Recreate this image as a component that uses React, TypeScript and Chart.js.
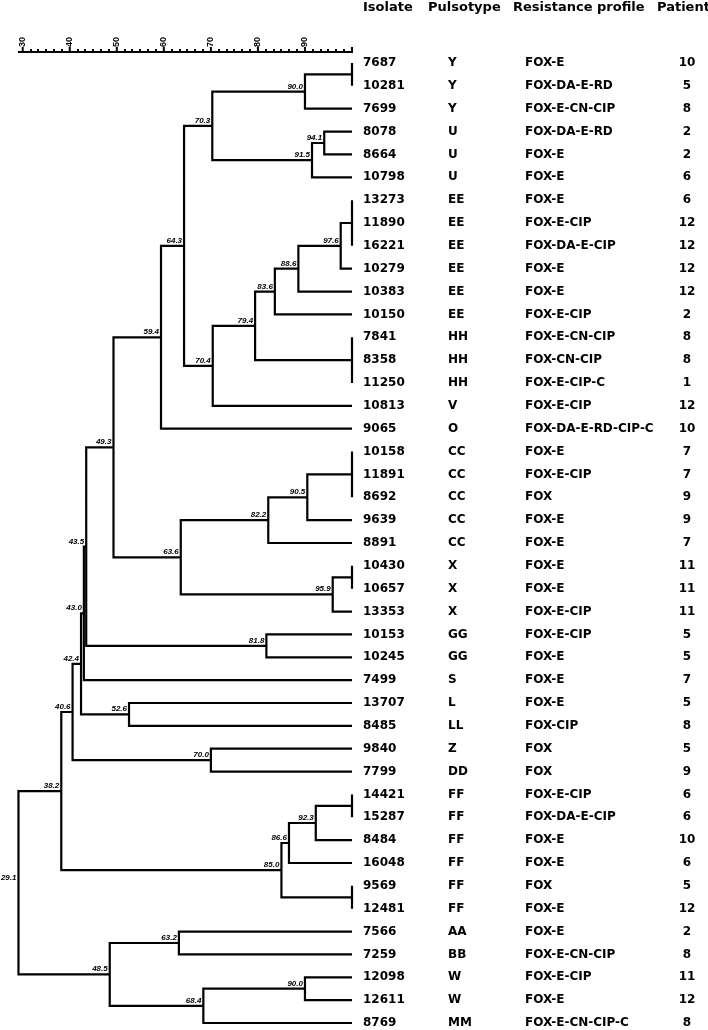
import React, { useEffect, useRef } from "react";
import { Chart, registerables } from "chart.js";

Chart.register(...registerables);

// ---------- table data (one entry per dendrogram leaf, top to bottom) ----------
const isolates = [
  "7687", "10281", "7699", "8078", "8664", "10798", "13273", "11890", "16221", "10279",
  "10383", "10150", "7841", "8358", "11250", "10813", "9065", "10158", "11891", "8692",
  "9639", "8891", "10430", "10657", "13353", "10153", "10245", "7499", "13707", "8485",
  "9840", "7799", "14421", "15287", "8484", "16048", "9569", "12481", "7566", "7259",
  "12098", "12611", "8769",
];
const pulsotypes = [
  "Y", "Y", "Y", "U", "U", "U", "EE", "EE", "EE", "EE",
  "EE", "EE", "HH", "HH", "HH", "V", "O", "CC", "CC", "CC",
  "CC", "CC", "X", "X", "X", "GG", "GG", "S", "L", "LL",
  "Z", "DD", "FF", "FF", "FF", "FF", "FF", "FF", "AA", "BB",
  "W", "W", "MM",
];
const resistanceProfiles = [
  "FOX-E", "FOX-DA-E-RD", "FOX-E-CN-CIP", "FOX-DA-E-RD", "FOX-E", "FOX-E", "FOX-E", "FOX-E-CIP", "FOX-DA-E-CIP", "FOX-E",
  "FOX-E", "FOX-E-CIP", "FOX-E-CN-CIP", "FOX-CN-CIP", "FOX-E-CIP-C", "FOX-E-CIP", "FOX-DA-E-RD-CIP-C", "FOX-E", "FOX-E-CIP", "FOX",
  "FOX-E", "FOX-E", "FOX-E", "FOX-E", "FOX-E-CIP", "FOX-E-CIP", "FOX-E", "FOX-E", "FOX-E", "FOX-CIP",
  "FOX", "FOX", "FOX-E-CIP", "FOX-DA-E-CIP", "FOX-E", "FOX-E", "FOX", "FOX-E", "FOX-E", "FOX-E-CN-CIP",
  "FOX-E-CIP", "FOX-E", "FOX-E-CN-CIP-C",
];
const patients = [
  "10", "5", "8", "2", "2", "6", "6", "12", "12", "12",
  "12", "2", "8", "8", "1", "12", "10", "7", "7", "9",
  "9", "7", "11", "11", "11", "5", "5", "7", "5", "8",
  "5", "9", "6", "6", "10", "6", "5", "12", "2", "8",
  "11", "12", "8",
];
const columnHeaders = ["Isolate", "Pulsotype", "Resistance profile", "Patient"];

// ---------- dendrogram clusters: children ("r#" = leaf row, "n#" = cluster) ----------
const clusterChildren = [
  ["r0", "r1"],        // n0
  ["n0", "r2"],        // n1
  ["r3", "r4"],        // n2
  ["n2", "r5"],        // n3
  ["n1", "n3"],        // n4
  ["r6", "r7", "r8"],  // n5
  ["n5", "r9"],        // n6
  ["n6", "r10"],       // n7
  ["n7", "r11"],       // n8
  ["r12", "r13", "r14"], // n9
  ["n8", "n9"],        // n10
  ["n10", "r15"],      // n11
  ["n4", "n11"],       // n12
  ["n12", "r16"],      // n13
  ["r17", "r18", "r19"], // n14
  ["n14", "r20"],      // n15
  ["n15", "r21"],      // n16
  ["r22", "r23"],      // n17
  ["n17", "r24"],      // n18
  ["n16", "n18"],      // n19
  ["n13", "n19"],      // n20
  ["r25", "r26"],      // n21
  ["n20", "n21"],      // n22
  ["n22", "r27"],      // n23
  ["r28", "r29"],      // n24
  ["n23", "n24"],      // n25
  ["r30", "r31"],      // n26
  ["n25", "n26"],      // n27
  ["r32", "r33"],      // n28
  ["n28", "r34"],      // n29
  ["n29", "r35"],      // n30
  ["r36", "r37"],      // n31
  ["n30", "n31"],      // n32
  ["n27", "n32"],      // n33
  ["r38", "r39"],      // n34
  ["r40", "r41"],      // n35
  ["n35", "r42"],      // n36
  ["n34", "n36"],      // n37
  ["n33", "n37"],      // n38 (root)
];
const clusterSimilarity = [
  100, 90.0, 94.1, 91.5, 70.3, 100, 97.6, 88.6, 83.6, 100,
  79.4, 70.4, 64.3, 59.4, 100, 90.5, 82.2, 100, 95.9, 63.6,
  49.3, 81.8, 43.5, 43.0, 52.6, 42.4, 70.0, 40.6, 100, 92.3,
  86.6, 100, 85.0, 38.2, 63.2, 90.0, 68.4, 48.5, 29.1,
];

// ---------- similarity scale ----------
const scaleMin = 29;
const scaleMax = 100;
const scaleMajorTicks = [30, 40, 50, 60, 70, 80, 90, 100];
const scaleTickLabels = ["30", "40", "50", "60", "70", "80", "90", ""];
const scaleMinorPerMajor = 6;

function buildTree() {
  const pos: Record<string, { x: number; y: number }> = {};
  isolates.forEach((_, i) => {
    pos["r" + i] = { x: 100, y: i };
  });
  const points: { x: number; y: number }[] = [];
  const nodeLabels: { x: number; y: number; text: string }[] = [];
  clusterChildren.forEach((kids, k) => {
    const sim = clusterSimilarity[k];
    const cs = kids.map((id) => pos[id]);
    const first = cs[0];
    const last = cs[cs.length - 1];
    const y = (first.y + last.y) / 2;
    pos["n" + k] = { x: sim, y };
    points.push(
      { x: first.x, y: first.y },
      { x: sim, y: first.y },
      { x: sim, y: last.y },
      { x: last.x, y: last.y },
      { x: NaN, y: NaN }
    );
    for (let m = 1; m < cs.length - 1; m++) {
      if (cs[m].x !== sim) {
        points.push({ x: sim, y: cs[m].y }, { x: cs[m].x, y: cs[m].y }, { x: NaN, y: NaN });
      }
    }
    if (sim < 100) nodeLabels.push({ x: sim, y, text: sim.toFixed(1) });
  });
  return { points, nodeLabels };
}

export default function App() {
  const canvasRef = useRef<HTMLCanvasElement | null>(null);

  useEffect(() => {
    const canvas = canvasRef.current;
    if (!canvas) return;
    const { points, nodeLabels } = buildTree();

    const overlay = {
      id: "dendroOverlay",
      afterDatasetsDraw(chart: any) {
        const ctx = chart.ctx as CanvasRenderingContext2D;
        const xs = chart.scales.x;
        const ys = chart.scales.y;
        const area = chart.chartArea;
        const axisY = area.top;
        ctx.save();
        ctx.fillStyle = "#000";
        ctx.strokeStyle = "#000";

        // scale bar
        ctx.lineWidth = 2;
        ctx.beginPath();
        ctx.moveTo(xs.getPixelForValue(scaleMin), axisY);
        ctx.lineTo(xs.getPixelForValue(scaleMax) + 1, axisY);
        ctx.stroke();
        for (let i = 0; i < scaleMajorTicks.length; i++) {
          const v = scaleMajorTicks[i];
          const px = xs.getPixelForValue(v);
          ctx.beginPath();
          ctx.moveTo(px, axisY);
          ctx.lineTo(px, axisY - 5);
          ctx.stroke();
          const lab = scaleTickLabels[i];
          if (lab) {
            ctx.save();
            ctx.translate(px, axisY - 5);
            ctx.rotate(-Math.PI / 2);
            ctx.font = 'bold 9px "Liberation Sans"';
            ctx.textAlign = "left";
            ctx.textBaseline = "middle";
            ctx.fillText(lab, 0, 0);
            ctx.restore();
          }
          if (i < scaleMajorTicks.length - 1) {
            const next = scaleMajorTicks[i + 1];
            for (let m = 1; m < scaleMinorPerMajor; m++) {
              const mv = v + ((next - v) * m) / scaleMinorPerMajor;
              const mpx = xs.getPixelForValue(mv);
              ctx.fillRect(Math.round(mpx) - 1, axisY - 3, 2, 2);
            }
          }
        }

        // node similarity labels
        ctx.font = 'bold italic 8px "Liberation Sans"';
        ctx.textAlign = "right";
        ctx.textBaseline = "alphabetic";
        nodeLabels.forEach((l) => {
          ctx.fillText(l.text, xs.getPixelForValue(l.x) - 2, ys.getPixelForValue(l.y) - 3);
        });

        // table header
        const headerX = [363, 428, 513, 657];
        ctx.font = 'bold 13px "DejaVu Sans"';
        ctx.textAlign = "left";
        ctx.textBaseline = "middle";
        columnHeaders.forEach((h, i) => ctx.fillText(h, headerX[i], 8));

        // table rows
        ctx.font = 'bold 12px "DejaVu Sans"';
        isolates.forEach((iso, i) => {
          const py = ys.getPixelForValue(i);
          ctx.textAlign = "left";
          ctx.fillText(iso, 363, py);
          ctx.fillText(pulsotypes[i], 448, py);
          ctx.fillText(resistanceProfiles[i], 525, py);
          ctx.textAlign = "center";
          ctx.fillText(patients[i], 687, py);
        });
        ctx.restore();
      },
    };

    const chart = new Chart(canvas, {
      type: "scatter",
      data: {
        datasets: [
          {
            data: points,
            showLine: true,
            borderColor: "#000",
            borderWidth: 2.2,
            pointRadius: 0,
            pointHoverRadius: 0,
            spanGaps: false,
            clip: false,
            borderJoinStyle: "miter",
            borderCapStyle: "butt",
            tension: 0,
          } as any,
        ],
      },
      options: {
        animation: false,
        responsive: false,
        devicePixelRatio: 1,
        events: [],
        layout: { padding: { left: 18, right: 356, top: 52, bottom: 0 } },
        plugins: { legend: { display: false }, tooltip: { enabled: false } },
        scales: {
          x: { type: "linear", min: scaleMin, max: scaleMax, display: false },
          y: { type: "linear", min: -0.481, max: 42.306, reverse: true, display: false },
        },
      },
      plugins: [overlay],
    });
    return () => chart.destroy();
  }, []);

  return (
    <div style={{ position: "absolute", left: 0, top: 0, width: 708, height: 1030, background: "#fff" }}>
      <canvas ref={canvasRef} width={708} height={1030} style={{ width: 708, height: 1030, display: "block" }} />
    </div>
  );
}
